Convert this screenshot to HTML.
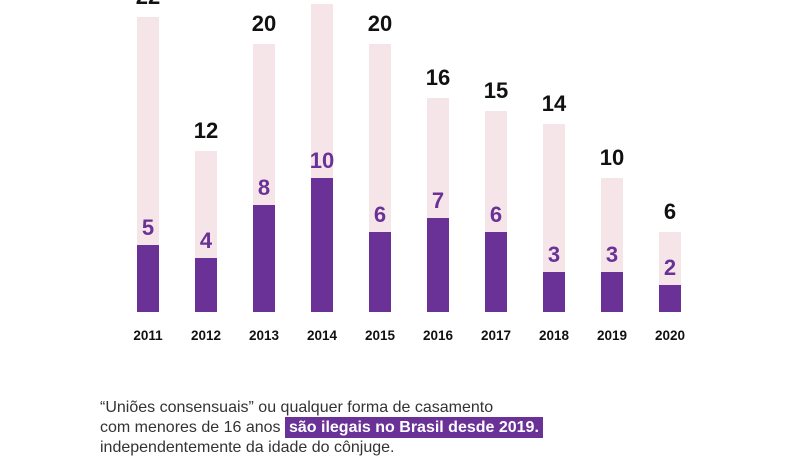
<!DOCTYPE html>
<html><head><meta charset="utf-8"><style>
body{margin:0;width:800px;height:450px;background:#fff;overflow:hidden;font-family:"Liberation Sans",sans-serif;position:relative}
.b{position:absolute;width:22px}
.p{background:#f6e5e8}
.d{background:#6a3196}
.t{position:absolute;width:60px;text-align:center;font-weight:bold;font-size:22px;line-height:22px}
.y{position:absolute;width:60px;text-align:center;font-weight:bold;font-size:13.5px;top:328px;color:#111}
.txt{position:absolute;left:100px;top:398px;font-size:16px;line-height:20px;color:#333;white-space:nowrap}
.hl{background:#6a3196;color:#fff;font-weight:bold;padding:2px 4px}
</style></head><body>
<div id="c"></div>
<div class="txt">“Uniões consensuais” ou qualquer forma de casamento<br>com menores de 16 anos <span class="hl">são ilegais no Brasil desde 2019.</span><br>independentemente da idade do cônjuge.</div>
<script>
var d=[[2011,22,5],[2012,12,4],[2013,20,8],[2014,23,10],[2015,20,6],[2016,16,7],[2017,15,6],[2018,14,3],[2019,10,3],[2020,6,2]];
var h='',s=13.4,base=312;
d.forEach(function(r,i){var cx=148+58*i,x=cx-11;
var tt=base-r[1]*s,pt=base-r[2]*s;
h+='<div class="b p" style="left:'+x+'px;top:'+tt+'px;height:'+(base-tt)+'px"></div>';
h+='<div class="b d" style="left:'+x+'px;top:'+pt+'px;height:'+(base-pt)+'px"></div>';
if(r[0]!=2014)h+='<div class="t" style="left:'+(cx-30)+'px;top:'+(tt-31)+'px;color:#111">'+r[1]+'</div>';
h+='<div class="t" style="left:'+(cx-30)+'px;top:'+(pt-28)+'px;color:#6a3196">'+r[2]+'</div>';
h+='<div class="y" style="left:'+(cx-30)+'px">'+r[0]+'</div>';});
document.getElementById('c').innerHTML=h;
</script>
</body></html>
